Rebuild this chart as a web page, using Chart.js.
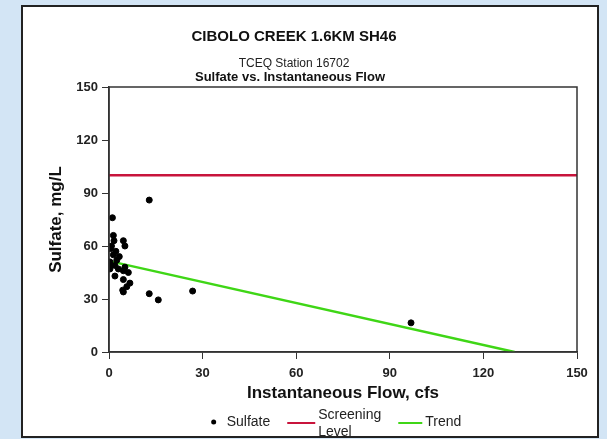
<!DOCTYPE html>
<html>
<head>
<meta charset="utf-8">
<script src="https://cdn.jsdelivr.net/npm/chart.js@4/dist/chart.umd.min.js"></script>
<style>
  html, body { margin: 0; padding: 0; }
  body { width: 607px; height: 439px; background: #d3e5f5; position: relative; overflow: hidden; }
  #panel { position: absolute; left: 21px; top: 5px; width: 578px; height: 433px; box-sizing: border-box; background: #fff; border: 2px solid #222; }
  #wrap { position: absolute; left: 0; top: 0; width: 607px; height: 439px; }
</style>
</head>
<body>
<div id="panel"></div>
<div id="wrap"><canvas id="chart"></canvas></div>
<script>
// sulfate samples: instantaneous flow (cfs) and sulfate (mg/L)
const flowValues = [12.9, 1.1, 1.4, 1.6, 4.6, 5.1, 0.8, 0.5, 1.4, 3.3, 2.5, 0.3, 0.6, 1.9, 3.0,
  5.1, 4.6, 6.2, 1.9, 4.6, 6.7, 5.7, 4.4, 4.6, 12.9, 15.8, 26.8, 96.8, 0.3, 2.2];
const sulfateValues = [86, 76, 66, 63, 63, 60, 60, 58.5, 55, 54, 52, 51, 49, 49, 47,
  48, 46, 45, 43, 41, 39, 37, 35, 34, 33, 29.5, 34.5, 16.5, 47, 57];

const screeningFlow = [0, 150];
const screeningLevel = [100, 100];

const trendFlow = [0.5, 130];
const trendSulfate = [51.3, 0];

const xTicks = [0, 30, 60, 90, 120, 150];
const yTicks = [0, 30, 60, 90, 120, 150];

const legendLabels = [['Sulfate'], ['Screening', 'Level'], ['Trend']];

const RED = '#c8143c';
const GREEN = '#3fd616';
const FONT = 'Liberation Sans, Arial, sans-serif';

function toPoints(xs, ys) {
  return xs.map((x, i) => ({ x: x, y: ys[i] }));
}

const frame = {
  id: 'frame',
  afterDatasetsDraw(chart) {
    const a = chart.chartArea;
    const ctx = chart.ctx;
    ctx.save();
    ctx.strokeStyle = '#333';
    ctx.lineWidth = 1.5;
    ctx.strokeRect(a.left, a.top, a.right - a.left, a.bottom - a.top);
    ctx.restore();
  }
};

// second subtitle line is bold, so it is drawn on its own
const subLine = {
  id: 'subLine',
  afterDraw(chart) {
    const ctx = chart.ctx;
    ctx.save();
    ctx.fillStyle = '#111';
    ctx.font = 'bold 13px ' + FONT;
    ctx.textAlign = 'center';
    ctx.textBaseline = 'middle';
    ctx.fillText('Sulfate vs. Instantaneous Flow', 290, chart.chartArea.top - 10);
    ctx.restore();
  }
};

// legend under the plot, with a two-line entry for the screening level
const bottomLegend = {
  id: 'bottomLegend',
  afterDraw(chart) {
    const ctx = chart.ctx;
    const a = chart.chartArea;
    const sets = chart.data.datasets;
    const y = 422;
    ctx.save();
    ctx.font = '14px ' + FONT;
    ctx.textBaseline = 'middle';
    ctx.textAlign = 'left';
    const markW = [6, 28, 24];
    const textGap = [10, 3, 3];
    const itemGap = 17;
    const textW = legendLabels.map(l => Math.max(...l.map(t => ctx.measureText(t).width)));
    let total = itemGap * (legendLabels.length - 1);
    legendLabels.forEach((l, i) => { total += markW[i] + textGap[i] + textW[i]; });
    let x = (a.left + a.right) / 2 - 7 - total / 2;
    legendLabels.forEach((lines, i) => {
      const ds = sets[i];
      if (i === 0) {
        ctx.fillStyle = ds.backgroundColor;
        ctx.beginPath();
        ctx.arc(x + 3, y, 2.5, 0, Math.PI * 2);
        ctx.fill();
      } else {
        ctx.strokeStyle = ds.borderColor;
        ctx.lineWidth = 2;
        ctx.beginPath();
        ctx.moveTo(x, y + 1);
        ctx.lineTo(x + markW[i], y + 1);
        ctx.stroke();
      }
      x += markW[i] + textGap[i];
      ctx.fillStyle = '#222';
      const lh = 17;
      const mid = lines.length > 1 ? y + 2 : y;
      lines.forEach((t, k) => {
        ctx.fillText(t, x, mid - (lines.length - 1) * lh / 2 + k * lh);
      });
      x += textW[i] + itemGap;
    });
    ctx.restore();
  }
};

new Chart(document.getElementById('chart'), {
  type: 'scatter',
  data: {
    datasets: [
      {
        label: 'Sulfate',
        data: toPoints(flowValues, sulfateValues),
        backgroundColor: '#000',
        borderColor: '#000',
        pointRadius: 3,
        order: 0,
      },
      {
        label: 'Screening Level',
        type: 'line',
        data: toPoints(screeningFlow, screeningLevel),
        borderColor: RED,
        borderWidth: 2.5,
        pointRadius: 0,
        order: 2,
      },
      {
        label: 'Trend',
        type: 'line',
        data: toPoints(trendFlow, trendSulfate),
        borderColor: GREEN,
        borderWidth: 2.5,
        pointRadius: 0,
        order: 1,
      },
    ],
  },
  options: {
    responsive: true,
    maintainAspectRatio: false,
    animation: false,
    layout: { padding: { left: 11, right: 30, top: 0, bottom: 34 } },
    plugins: {
      tooltip: { enabled: false },
      legend: { display: false },
      title: {
        display: true,
        text: 'CIBOLO CREEK 1.6KM SH46',
        color: '#111',
        font: { family: FONT, size: 15, weight: 'bold' },
        padding: { top: 28, bottom: 2 },
      },
      subtitle: {
        display: true,
        text: 'TCEQ Station 16702',
        color: '#222',
        font: { family: FONT, size: 12 },
        padding: { top: 8, bottom: 16.6 },
      },
    },
    scales: {
      x: {
        type: 'linear',
        min: 0,
        max: 150,
        afterBuildTicks: (s) => { s.ticks = xTicks.map(v => ({ value: v })); },
        afterFit: (s) => { s.height = 53; },
        grid: { drawOnChartArea: false, tickLength: 7, color: '#333' },
        border: { color: '#333', width: 1.5 },
        ticks: {
          color: '#222',
          padding: 7,
          font: { family: FONT, size: 13, weight: 'bold' },
        },
        title: {
          display: true,
          text: 'Instantaneous Flow, cfs',
          color: '#111',
          padding: { top: 0, bottom: 1 },
          font: { family: FONT, size: 17, weight: 'bold' },
        },
      },
      y: {
        min: 0,
        max: 150,
        afterBuildTicks: (s) => { s.ticks = yTicks.map(v => ({ value: v })); },
        afterFit: (s) => { s.width = 98; },
        grid: { drawOnChartArea: false, tickLength: 7, color: '#333' },
        border: { color: '#333', width: 1.5 },
        ticks: {
          color: '#222',
          padding: 4,
          font: { family: FONT, size: 13, weight: 'bold' },
        },
        title: {
          display: true,
          text: 'Sulfate, mg/L',
          color: '#111',
          padding: { top: 35, bottom: 0 },
          font: { family: FONT, size: 17, weight: 'bold' },
        },
      },
    },
  },
  plugins: [frame, subLine, bottomLegend],
});
</script>
</body>
</html>
